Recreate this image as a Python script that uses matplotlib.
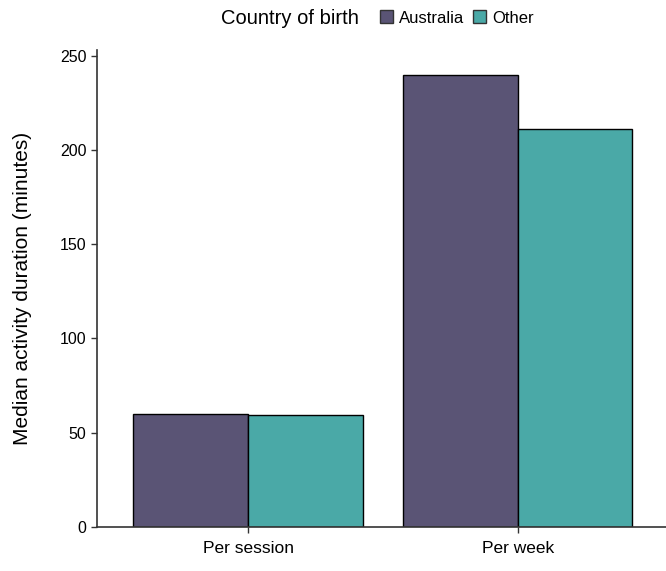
import matplotlib.pyplot as plt
from matplotlib.patches import Patch
import numpy as np

plt.rcParams['font.family'] = ['Liberation Sans', 'DejaVu Sans']

categories = ["Per session", "Per week"]
groups = ["Australia", "Other"]
australia = [60, 240]
other = [59.5, 211]
colors = ["#5a5475", "#4aa9a7"]

fig = plt.figure(figsize=(6.66, 5.71), dpi=100)
ax = fig.add_axes([97/666, 44/571, 569/666, 477/571])

x = np.arange(len(categories))
w = 0.425
ax.bar(x - w/2, australia, w, color=colors[0], edgecolor="black", linewidth=1, zorder=2)
ax.bar(x + w/2, other, w, color=colors[1], edgecolor="black", linewidth=1, zorder=2)

ax.set_xlim(-0.56, 1.55)
ax.set_ylim(0, 253)
ax.set_xticks(x)
ax.set_xticklabels(categories, fontsize=12.5)
ax.set_yticks([0, 50, 100, 150, 200, 250])
ax.tick_params(axis="y", labelsize=11.5)
ax.tick_params(axis="both", length=4, width=1, color="#333333")
ax.tick_params(axis="x", pad=6)
for s in ["top", "right"]:
    ax.spines[s].set_visible(False)
for s in ["left", "bottom"]:
    ax.spines[s].set_color("#333333")
    ax.spines[s].set_linewidth(1.2)
ax.set_ylabel("Median activity duration (minutes)", fontsize=15)
ax.yaxis.set_label_coords(-65/569, 0.5)

fig.text(290/666, 1 - 19/571, "Country of birth", fontsize=14.5, ha="center", va="center")
handles = [Patch(facecolor=c, edgecolor="#333333", label=g) for c, g in zip(colors, groups)]
fig.legend(handles=handles, loc="center left", bbox_to_anchor=(380/666, 1 - 18/571), ncol=2,
           frameon=False, fontsize=12, handlelength=0.8, handleheight=0.8,
           handletextpad=0.35, columnspacing=0.5, borderpad=0, borderaxespad=0)

fig.savefig("out.png", dpi=100)
